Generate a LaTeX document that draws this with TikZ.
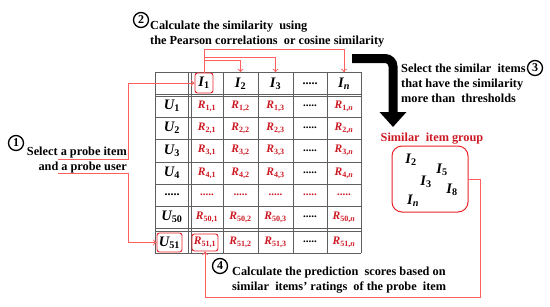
\documentclass[tikz,border=0pt]{standalone}
\usepackage{fontspec}
\setmainfont{Liberation Serif}
\usetikzlibrary{arrows.meta,positioning,calc}
\definecolor{linkred}{RGB}{255,95,95}
\definecolor{cellred}{RGB}{205,25,35}
\definecolor{boxred}{RGB}{235,35,40}
\definecolor{gridgray}{RGB}{95,95,95}
\newcommand{\itm}[2]{{\bfseries\itshape #1}\textsubscript{\bfseries #2}}

\begin{document}
\begin{tikzpicture}[x=1pt, y=-1pt,
            note/.style = {font=\bfseries\fontsize{12.3}{14.8}\selectfont, inner sep=0pt},
            num/.style = {circle, draw, line width=1.3pt, minimum size=15pt, inner sep=0pt, font=\bfseries\fontsize{12}{12}\selectfont},
            head/.style = {font=\fontsize{14.5}{14.5}\selectfont, inner sep=0pt, minimum height=22pt},
            cell/.style = {font=\fontsize{11.5}{11.5}\selectfont, text=cellred, inner sep=0pt},
            dots/.style = {font=\bfseries\fontsize{11}{11}\selectfont, inner sep=0pt},
            probebox/.style = {draw=boxred, rounded corners=2.5pt, line width=0.9pt},
            gridline/.style = {draw=gridgray, line width=0.6pt},
            link/.style = {draw=linkred, line width=0.8pt, -{To[length=3.5pt,width=6pt]}}
        ]
        \useasboundingbox (0,0) rectangle (550,306);

        % Rejilla de la matriz de valoraciones
        \foreach \y in {72,94,96.5,117,139,162,184,206,228,231,253}
            \draw [gridline] (155,\y) -- (361,\y);
        \foreach \x in {155,188.5,191,223,258,293,327,361}
            \draw [gridline] (\x,72) -- (\x,253);

        % Cabecera de items
        \node [head, probebox, minimum width=18pt, minimum height=20pt] (i1) at (204,83) {\itm{I}{1}};
        \node [head] (i2) at (240.5,83.5) {\itm{I}{2}};
        \node [head] (i3) at (275.5,83.5) {\itm{I}{3}};
        \node [head, font=\bfseries\fontsize{12}{12}\selectfont] (i4) at (310,83.5) {.....};
        \node [head] (i5) at (344,83.5) {\itm{I}{\itshape n}};

        % Usuarios
        \foreach \y/\r in {106/1,128/2,150.5/3,173/4,217/50}
            \node [head] (u\r) at (172,\y) {\itm{U}{\r}};
        \node [head, font=\bfseries\fontsize{12}{12}\selectfont] (udots) at (172,195) {.....};
        \node [head, probebox, minimum width=25pt, minimum height=19pt] (u51) at (169.5,242.5) {\itm{U}{51}};

        % Valoraciones
        \foreach \y/\r in {106/1,128/2,150.5/3,173/4,217/50,242/51} {
            \node [cell] (r\r-2) at (240.5,\y) {\itm{R}{\r,2}};
            \node [cell] (r\r-3) at (275.5,\y) {\itm{R}{\r,3}};
            \node [dots] (r\r-4) at (310,\y) {.....};
            \node [cell] (r\r-n) at (344,\y) {\itm{R}{\r,\itshape n}};
        }
        \foreach \y/\r in {106/1,128/2,150.5/3,173/4,217/50}
            \node [cell] (r\r-1) at (207,\y) {\itm{R}{\r,1}};
        \node [cell, probebox, minimum width=26pt, minimum height=17pt] (r51-1) at (205,242.5) {\itm{R}{51,1}};
        \foreach \x/\c in {207/1,240.5/2,275.5/3,310/4,344/n}
            \node [dots, text=cellred] (rd-\c) at (\x,195) {.....};

        % Paso 1
        \node [num] (n1) at (16,143) {1};
        \node [note, align=right, anchor=north east] (sel) at (127,147) {Select a probe item\\ and a probe user};
        \coordinate (ul1) at (58,159);
        \coordinate (ul2) at (58,173.5);
        \draw [link] (ul1) -- (128,159) |- (i1.west);
        \draw [link] (ul2) -- (128,173.5) |- (u51.west);

        % Paso 2
        \node [num] (n2) at (141,20) {2};
        \node [note, align=left, anchor=north west] (calc) at (150,21) {Calculate the similarity\ \ using\\ the Pearson correlations\ \ or cosine similarity};
        \draw [link] (i1.north) -- ++(0,-23) -| (i5.north);
        \draw [link] (i1.north) -- ++(0,-15) -| (i3.north);
        \draw [link] (i1.north) -- ++(0,-12) -| (i2.north);

        % Paso 3
        \coordinate (bigfrom) at (352,58.5);
        \coordinate (bigto) at (393,127);
        \draw [line width=9pt, rounded corners=8pt, -{Triangle[length=15pt,width=26pt]}] (bigfrom) -- (bigto |- bigfrom) -- (bigto);
        \node [note, align=left, anchor=north west] (thr) at (401,64) {Select the similar\ \ items\\ that have the similarity\\ more than\ \ thresholds};
        \node [num] (n3) at (535,68) {3};

        % Grupo de items similares
        \node [font=\bfseries\fontsize{12.3}{12.3}\selectfont, text=cellred] (grouplab) at (432,139) {Similar\ \ item group};
        \node [draw=boxred, line width=1pt, rounded corners=10pt, minimum width=76pt, minimum height=66pt] (group) at (430,179) {};
        \node [head, minimum height=0pt] (g2) at (411,160) {\itm{I}{2}};
        \node [head, minimum height=0pt] (g5) at (442,170) {\itm{I}{5}};
        \node [head, minimum height=0pt] (g3) at (426,182) {\itm{I}{3}};
        \node [head, minimum height=0pt] (g8) at (452,190) {\itm{I}{8}};
        \node [head, minimum height=0pt] (gn) at (413,201) {\itm{I}{\itshape n}};

        % Paso 4
        \node [num] (n4) at (220,266) {4};
        \node [note, align=left, anchor=north west] (pred) at (232,267) {Calculate the prediction\ \ scores based on\\ similar\ \ items' ratings\ \ of the probe\ \ item};
        \draw [link] (group.east) -- ++(12,0) |- (205,297) -- (r51-1.south);

    \end{tikzpicture}
\end{document}
